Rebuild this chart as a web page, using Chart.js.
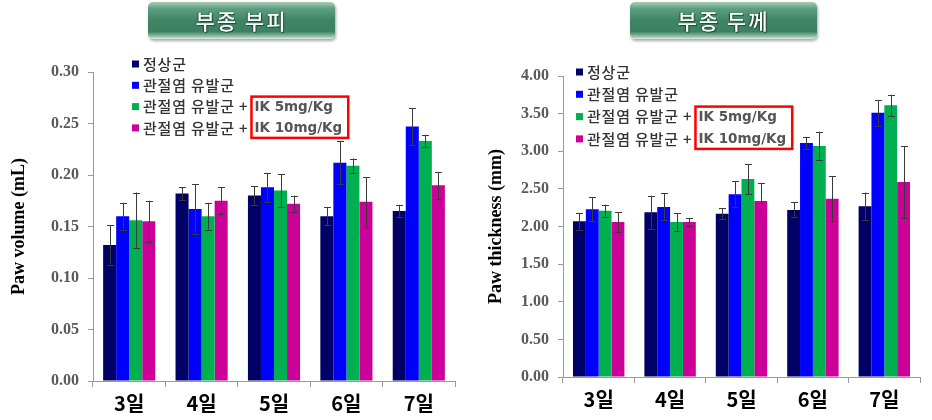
<!DOCTYPE html>
<html>
<head>
<meta charset="utf-8">
<script src="https://cdn.jsdelivr.net/npm/chart.js@4"></script>
<style>
  body { margin: 0; background: #fff; }
  #wrap { position: relative; width: 932px; height: 420px; overflow: hidden; }
  .box { position: absolute; top: 0; }
  .title {
    position: absolute; top: 2px; height: 37px; width: 187px;
    border-radius: 5px;
    background: linear-gradient(#a9cdb9 0%, #5c9e80 18%, #3f8565 50%, #3c8262 80%, #9cc4ae 94%, #e3eee7 100%);
    box-shadow: 1px 2px 3px rgba(0,0,0,0.35);
    color: #fff; font: 500 21px "Noto Sans CJK KR", sans-serif;
    text-align: center; line-height: 37px; letter-spacing: 2px;
    text-shadow: 1px 1px 1px #1d4a35, -1px 0 1px #1d4a35;
  }
</style>
</head>
<body>
<div id="wrap">
  <div class="box" style="left:0"><canvas id="volChart" width="466" height="420"></canvas></div>
  <div class="box" style="left:466px"><canvas id="thickChart" width="466" height="420"></canvas></div>
  <div class="title" style="left:148px">부종 부피</div>
  <div class="title" style="left:630px">부종 두께</div>
</div>
<script>
// 데이터
const days = ['3일', '4일', '5일', '6일', '7일'];
const groupLabels = ['정상군', '관절염 유발군', '관절염 유발군 + IK 5mg/Kg', '관절염 유발군 + IK 10mg/Kg'];
const groupColors = ['#000066', '#0000FF', '#00B050', '#CC0099'];

// 부피 (mL)
const volNormal = [0.132, 0.182, 0.180, 0.160, 0.165];
const volArthritis = [0.160, 0.167, 0.188, 0.212, 0.247];
const volIK5 = [0.156, 0.160, 0.185, 0.209, 0.233];
const volIK10 = [0.155, 0.175, 0.172, 0.174, 0.190];
const volNormalErr = [0.019, 0.006, 0.009, 0.009, 0.006];
const volArthritisErr = [0.013, 0.024, 0.014, 0.021, 0.018];
const volIK5Err = [0.027, 0.013, 0.016, 0.007, 0.006];
const volIK10Err = [0.020, 0.013, 0.008, 0.024, 0.013];

// 두께 (mm)
const thickNormal = [2.07, 2.19, 2.17, 2.22, 2.27];
const thickArthritis = [2.23, 2.26, 2.43, 3.11, 3.51];
const thickIK5 = [2.21, 2.06, 2.63, 3.07, 3.61];
const thickIK10 = [2.06, 2.06, 2.34, 2.37, 2.59];
const thickNormalErr = [0.11, 0.22, 0.07, 0.10, 0.18];
const thickArthritisErr = [0.16, 0.18, 0.17, 0.08, 0.17];
const thickIK5Err = [0.08, 0.12, 0.20, 0.19, 0.14];
const thickIK10Err = [0.13, 0.05, 0.24, 0.30, 0.48];

// 에러바
const errorBars = {
    id: 'errorBars',
    afterDatasetsDraw(chart) {
        const ctx = chart.ctx;
        const y = chart.scales.y;
        ctx.save();
        ctx.strokeStyle = '#3a3a3a';
        ctx.lineWidth = 1;
        chart.data.datasets.forEach((ds, i) => {
            const meta = chart.getDatasetMeta(i);
            meta.data.forEach((bar, j) => {
                const v = ds.data[j], e = ds.errors[j];
                const x = Math.round(bar.x) + 0.5;
                const top = y.getPixelForValue(v + e);
                const bot = y.getPixelForValue(v - e);
                ctx.beginPath();
                ctx.moveTo(x, top); ctx.lineTo(x, bot);
                ctx.moveTo(x - 3.5, Math.round(top) + 0.5); ctx.lineTo(x + 3.5, Math.round(top) + 0.5);
                ctx.moveTo(x - 3.5, Math.round(bot) + 0.5); ctx.lineTo(x + 3.5, Math.round(bot) + 0.5);
                ctx.stroke();
            });
        });
        ctx.restore();
    }
};

// 범례 + 빨간 박스
const sideLegend = {
    id: 'sideLegend',
    afterDraw(chart, args, opts) {
        const ctx = chart.ctx;
        const korFont = '500 15px "Noto Sans CJK KR", sans-serif';
        const ikFont = 'bold 13.5px "DejaVu Sans", sans-serif';
        let boxLeft = null, boxRight = 0, firstIK = null, lastIK = null;
        ctx.save();
        ctx.textBaseline = 'middle';
        chart.data.datasets.forEach((ds, i) => {
            const cy = opts.y + i * opts.rowH;
            ctx.fillStyle = ds.backgroundColor;
            ctx.fillRect(opts.x, cy - 3.5, 7, 7);
            const k = ds.label.indexOf('IK');
            const head = k >= 0 ? ds.label.slice(0, k) : ds.label;
            ctx.font = korFont;
            ctx.letterSpacing = '0.8px';
            ctx.fillStyle = '#333';
            const tx = opts.x + 11;
            ctx.fillText(head, tx, cy);
            if (k >= 0) {
                const hx = tx + ctx.measureText(head).width + 2;
                ctx.font = ikFont;
                ctx.letterSpacing = '0px';
                ctx.fillStyle = '#555';
                const tail = ds.label.slice(k);
                ctx.fillText(tail, hx, cy + 1);
                const w = ctx.measureText(tail).width;
                boxLeft = boxLeft === null ? hx - 3 : Math.min(boxLeft, hx - 3);
                boxRight = Math.max(boxRight, hx + w + 6);
                if (firstIK === null) firstIK = cy;
                lastIK = cy;
            }
        });
        if (boxLeft !== null) {
            ctx.strokeStyle = '#FF0000';
            ctx.lineWidth = 2.5;
            ctx.strokeRect(boxLeft, firstIK - 10, boxRight - boxLeft, lastIK - firstIK + 20);
        }
        ctx.restore();
    }
};

function makeDatasets(values, errs) {
    return groupLabels.map((lab, i) => ({
        label: lab,
        data: values[i],
        errors: errs[i],
        backgroundColor: groupColors[i],
        borderWidth: 0,
        categoryPercentage: 0.72,
        barPercentage: 1.0
    }));
}

function makeChart(id, values, errs, opt) {
    return new Chart(document.getElementById(id), {
        type: 'bar',
        data: { labels: days, datasets: makeDatasets(values, errs) },
        options: {
            responsive: false,
            animation: false,
            devicePixelRatio: 1,
            layout: { padding: { top: opt.top, right: opt.right, left: 0, bottom: 0 } },
            plugins: {
                legend: { display: false },
                tooltip: { enabled: false },
                sideLegend: opt.legend
            },
            scales: {
                x: {
                    afterFit: s => { s.height = opt.xHeight; },
                    grid: { drawOnChartArea: false, tickLength: 6, color: '#999', offset: true },
                    border: { color: '#999' },
                    ticks: {
                        color: '#000', padding: 4,
                        font: { family: '"Noto Sans CJK KR", sans-serif', size: 20, weight: 'bold' }
                    }
                },
                y: {
                    min: 0, max: opt.max,
                    afterFit: s => { s.width = opt.yWidth; },
                    grid: { drawOnChartArea: false, tickLength: 5, color: '#999' },
                    border: { color: '#999' },
                    ticks: {
                        stepSize: opt.step, padding: 9, color: '#595959',
                        font: { family: '"Liberation Serif", serif', size: 16, weight: 'bold' },
                        callback: v => v.toFixed(2)
                    },
                    title: {
                        display: true, text: opt.title, color: '#000',
                        padding: { top: opt.titlePad, bottom: 0 },
                        font: { family: '"Liberation Serif", serif', size: 18, weight: 'bold' }
                    }
                }
            }
        },
        plugins: [errorBars, sideLegend]
    });
}

makeChart('volChart',
    [volNormal, volArthritis, volIK5, volIK10],
    [volNormalErr, volArthritisErr, volIK5Err, volIK10Err],
    { top: 72, right: 11, xHeight: 39, yWidth: 93, max: 0.30, step: 0.05,
      title: 'Paw volume (mL)', titlePad: 9,
      legend: { x: 132, y: 64, rowH: 21.3 } });

makeChart('thickChart',
    [thickNormal, thickArthritis, thickIK5, thickIK10],
    [thickNormalErr, thickArthritisErr, thickIK5Err, thickIK10Err],
    { top: 76, right: 12, xHeight: 43, yWidth: 97, max: 4.0, step: 0.5,
      title: 'Paw thickness (mm)', titlePad: 20,
      legend: { x: 110, y: 72, rowH: 22.3 } });
</script>
</body>
</html>
